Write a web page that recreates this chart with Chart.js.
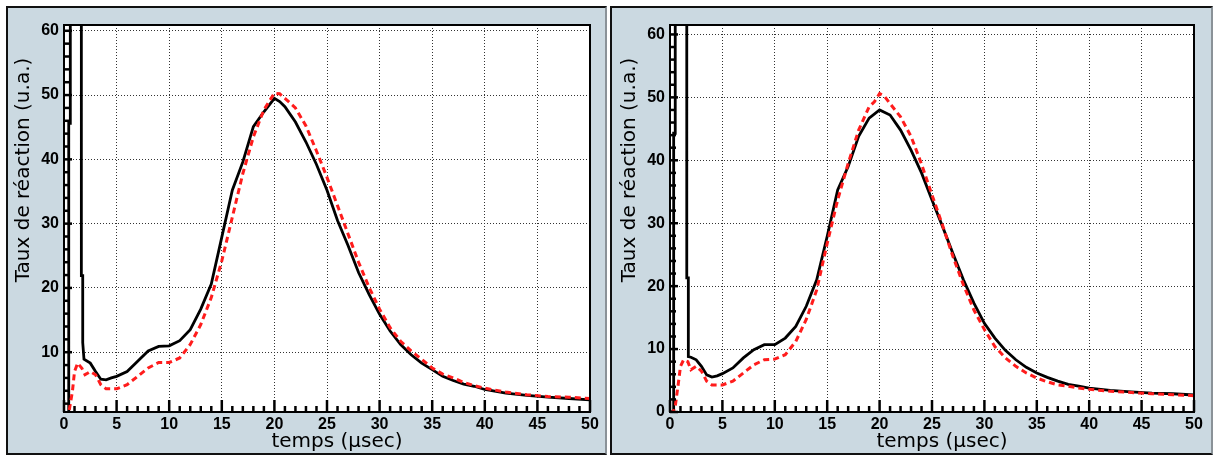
<!DOCTYPE html>
<html><head><meta charset="utf-8">
<script src="https://cdn.jsdelivr.net/npm/chart.js@4/dist/chart.umd.min.js"></script>
<style>
html,body{margin:0;padding:0;background:#fff;width:1214px;height:456px;overflow:hidden;position:relative}
.panel{position:absolute;box-sizing:border-box;background:#cbd9e1;border:2px solid #111;border-right-color:#8a9298;}
canvas{position:absolute;top:0}
</style></head><body>
<div class="panel" style="left:6px;top:6px;width:601px;height:449px"></div>
<div class="panel" style="left:610px;top:6px;width:603px;height:449px"></div>
<canvas id="c1" width="608" height="456" style="left:0"></canvas>
<canvas id="c2" width="606" height="456" style="left:608px"></canvas>
<script>
// ---- data ----
const xTitle = 'temps (μsec)';
const yTitle = 'Taux de réaction (u.a.)';
const xTickValues = [0, 5, 10, 15, 20, 25, 30, 35, 40, 45, 50];
const yTickValuesLeft = [10, 20, 30, 40, 50, 60];
const yTickValuesRight = [0, 10, 20, 30, 40, 50, 60];

const leftBlackX = [0,0.45,0.45,0.6,0.6,1.65,1.65,1.78,1.78,1.9,2.5,3,3.5,4,4.5,5,6,7,8,9,10,11,12,13,14,15,16,17,18,19,20,20.5,21,22,23,24,25,26,27,28,29,30,31,32,33,34,35,36,37,38,39,40,42,44,46,48,50];
const leftBlackY = [0,0,45.6,45.6,70,70,21.9,21.9,11.5,8.9,8.3,7.0,5.8,5.7,6.0,6.25,7.0,8.6,10.2,10.9,11.0,11.8,13.5,16.7,20.6,27.9,35.2,39.6,45.1,47.4,49.5,49.0,48.2,45.8,42.7,39.2,35.2,30.5,26.6,22.4,19.0,15.9,13.3,11.2,9.6,8.3,7.3,6.25,5.6,5.05,4.7,4.2,3.65,3.3,3.0,2.8,2.6];
const leftRedX = [0,0.3,0.5,0.8,1.0,1.3,1.7,2.0,2.5,3.0,3.5,4,5,6,7,8,9,10,11,12,13,14,15,16,17,18,19,20,20.5,21,22,23,24,25,26,27,28,29,30,31,32,33,34,35,36,37,38,39,40,42,44,46,48,50];
const leftRedY = [0,0,1.0,3.9,7.0,8.3,7.5,6.5,7.0,6.5,4.95,4.3,4.3,4.95,6.25,7.55,8.4,8.4,9.1,11.2,14.3,18.5,24.2,31.0,37.8,43.5,47.7,50.3,50.2,49.5,48.0,45.2,41.3,37.2,32.8,28.4,24.0,20.1,16.7,13.8,11.7,10.2,8.9,7.55,6.6,6.0,5.3,4.8,4.4,3.8,3.4,3.1,3.0,2.8];

const rightBlackX = [0,0.35,0.35,0.5,0.5,1.6,1.6,1.75,1.75,2.0,2.5,3,3.5,4,4.5,5,6,7,8,9,10,11,12,13,14,15,16,17,18,19,20,21,22,23,24,25,26,27,28,29,30,31,32,33,34,35,36,37,38,39,40,42,44,46,48,50];
const rightBlackY = [0,0,44.3,44.3,70,70,21.3,21.3,8.8,8.7,8.3,7.25,5.9,5.55,5.75,6.1,7.0,8.6,9.9,10.7,10.7,11.75,13.6,16.8,21.0,27.9,35.3,39.0,43.8,46.7,48.0,47.2,44.8,41.6,38.0,33.7,29.5,25.2,21.0,17.3,14.1,11.75,9.8,8.3,7.1,6.2,5.5,4.9,4.4,4.1,3.8,3.45,3.2,3.0,2.9,2.7];
const rightRedX = [0,0.3,0.5,0.8,1.0,1.3,1.7,2.0,2.5,3.0,3.5,4,5,6,7,8,9,10,11,12,13,14,15,16,17,18,19,19.5,20,20.5,21,22,23,24,25,26,27,28,29,30,31,32,33,34,35,36,37,38,39,40,42,44,46,48,50];
const rightRedY = [0,0,0.9,4.6,7.25,8.3,8.0,6.7,7.25,6.5,4.9,4.3,4.3,4.9,6.2,7.5,8.3,8.4,9.1,11.2,14.7,19.4,26.8,33.7,39.5,44.8,48.5,49.3,50.6,50.1,49.0,46.9,43.8,39.4,34.5,29.7,24.7,20.2,16.2,13.1,10.4,8.6,7.25,6.2,5.4,4.8,4.3,4.1,3.8,3.6,3.3,3.1,2.9,2.75,2.6];

// ---- helpers ----
function pts(xs, ys){ const n=Math.min(xs.length, ys.length); const out=[]; for(let i=0;i<n;i++) out.push({x:xs[i], y:ys[i]}); return out; }

const rootStyle = {
  id: 'rootStyle',
  beforeDraw(chart){
    const {ctx, chartArea:a} = chart;
    ctx.save(); ctx.fillStyle = '#fff';
    ctx.fillRect(a.left, a.top, a.right-a.left, a.bottom-a.top);
    ctx.restore();
  },
  afterDraw(chart){
    const {ctx, chartArea:a, scales:{x, y}} = chart;
    ctx.save();
    ctx.setLineDash([]);
    ctx.strokeStyle = '#000'; ctx.lineWidth = 2.5; ctx.lineCap = 'butt';
    for (let v = 0; v <= 50; v += 1) {
      const px = x.getPixelForValue(v);
      const len = (v % 5 === 0) ? 12 : 6;
      ctx.beginPath(); ctx.moveTo(px, a.bottom); ctx.lineTo(px, a.bottom - len); ctx.stroke();
    }
    for (let v = Math.ceil(y.min/2)*2; v <= y.max; v += 2) {
      const py = y.getPixelForValue(v);
      const len = (v % 10 === 0) ? 8 : 6;
      ctx.beginPath(); ctx.moveTo(a.left, py); ctx.lineTo(a.left + len, py); ctx.stroke();
    }
    ctx.lineWidth = 2;
    ctx.strokeRect(a.left, a.top, a.right-a.left, a.bottom-a.top);
    // axis titles
    ctx.fillStyle = '#000';
    ctx.font = '20px "DejaVu Sans"';
    ctx.textAlign = 'center'; ctx.textBaseline = 'alphabetic';
    ctx.fillText(xTitle, (a.left + a.right)/2 + 10, a.bottom + 35);
    ctx.translate(a.left - 40, a.top + 145);
    ctx.rotate(-Math.PI/2);
    ctx.textBaseline = 'middle';
    ctx.fillText(yTitle, 0, 0);
    ctx.restore();
  }
};

function makeChart(id, cfg){
  const tickFont = {family: 'Liberation Sans', size: 16, weight: 700};
  new Chart(document.getElementById(id), {
    type: 'line',
    data: { datasets: [
      { data: pts(cfg.redX, cfg.redY), borderColor: '#ff1c1c', borderWidth: 3, borderDash: [6,4], pointRadius: 0, tension: 0, fill: false, order: 1 },
      { data: pts(cfg.blackX, cfg.blackY), borderColor: '#000', borderWidth: 2.8, pointRadius: 0, tension: 0, fill: false, order: 2 }
    ]},
    options: {
      responsive: false, animation: false, events: [],
      layout: { padding: { left: 0, top: 25, right: cfg.padRight, bottom: 0 } },
      plugins: { legend: {display: false}, tooltip: {enabled: false} },
      scales: {
        x: {
          type: 'linear', min: 0, max: 50,
          afterBuildTicks: s => { s.ticks = xTickValues.map(v => ({value: v})); },
          afterFit: s => { s.height = 44; },
          grid: { color: '#333', lineWidth: 1, drawTicks: false },
          border: { display: false, dash: [1,2] },
          ticks: { color: '#000', font: tickFont, padding: 3, maxRotation: 0, autoSkip: false },
          title: { display: false }
        },
        y: {
          type: 'linear', min: cfg.yMin, max: cfg.yMax,
          afterBuildTicks: s => { s.ticks = cfg.yTicks.map(v => ({value: v})); },
          afterFit: s => { s.width = cfg.yWidth; },
          grid: { color: '#333', lineWidth: 1, drawTicks: false },
          border: { display: false, dash: [1,2] },
          ticks: { color: '#000', font: tickFont, padding: 5, autoSkip: false },
          title: { display: false }
        }
      }
    },
    plugins: [rootStyle]
  });
}

makeChart('c1', { blackX: leftBlackX, blackY: leftBlackY, redX: leftRedX, redY: leftRedY,
  yMin: 0.7, yMax: 60.9, yTicks: yTickValuesLeft, yWidth: 64, padRight: 18 });
makeChart('c2', { blackX: rightBlackX, blackY: rightBlackY, redX: rightRedX, redY: rightRedY,
  yMin: 0, yMax: 61.5, yTicks: yTickValuesRight, yWidth: 62, padRight: 20 });
</script>
</body></html>
